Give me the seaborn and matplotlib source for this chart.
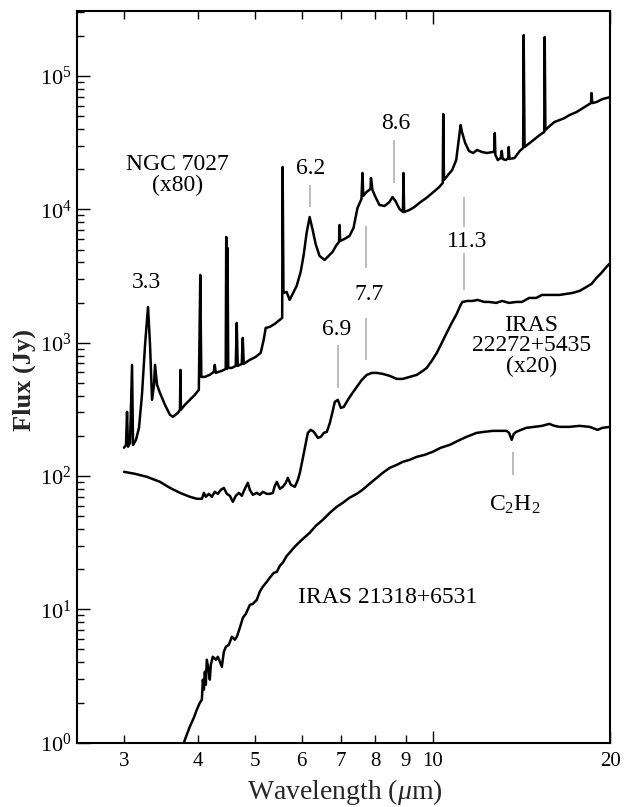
import numpy as np
import pandas as pd
import seaborn as sns
import matplotlib
matplotlib.use("Agg")
import matplotlib.pyplot as plt
from matplotlib.ticker import LogLocator, NullFormatter

# ---------------------------------------------------------------------------
# Spectra (wavelength in micron, flux in Jy, already scaled as labelled)
# ---------------------------------------------------------------------------
ngc_wl = [3.000, 3.023, 3.035, 3.047, 3.071, 3.095, 3.107, 3.143, 3.180, 3.217,
          3.256, 3.294, 3.320, 3.346, 3.372, 3.385, 3.412, 3.451, 3.519, 3.588,
          3.630, 3.702, 3.731, 3.738, 3.745, 3.803, 3.878, 3.953, 4.016, 4.039,
          4.055, 4.110, 4.191, 4.257, 4.274, 4.290, 4.391, 4.460, 4.469, 4.481,
          4.492, 4.504, 4.566, 4.638, 4.656, 4.674, 4.748, 4.767, 4.785, 4.899,
          5.014, 5.112, 5.172, 5.213, 5.294, 5.399, 5.505, 5.559, 5.569, 5.587,
          5.657, 5.723, 5.791, 5.882, 5.975, 6.045, 6.115, 6.188, 6.261, 6.334,
          6.431, 6.558, 6.661, 6.766, 6.872, 6.939, 6.953, 6.971, 7.088, 7.228,
          7.342, 7.457, 7.574, 7.604, 7.628, 7.724, 7.845, 7.860, 7.906, 7.999,
          8.125, 8.285, 8.448, 8.548, 8.648, 8.784, 8.904, 8.922, 8.946, 9.132,
          9.312, 9.491, 9.754, 9.984, 10.26, 10.40, 10.42, 10.45, 10.58, 10.79,
          10.96, 11.04, 11.15, 11.21, 11.35, 11.52, 11.71, 11.89, 12.12, 12.36,
          12.64, 12.71, 12.74, 12.77, 12.89, 13.04, 13.09, 13.14, 13.30, 13.43,
          13.45, 13.49, 13.76, 14.04, 14.23, 14.26, 14.31, 14.60, 14.89, 15.18,
          15.45, 15.48, 15.52, 15.78, 16.08, 16.40, 16.73, 17.05, 17.53, 18.08,
          18.54, 18.58, 18.64, 18.95, 19.40, 20.00]
ngc_flux = [163, 171, 303, 166, 177, 682, 171, 187, 230, 406,
            963, 1855, 963, 373, 483, 682, 483, 420, 342, 288,
            278, 298, 314, 625, 314, 342, 373, 406, 443, 3223,
            554, 554, 574, 604, 682, 594, 615, 636, 6210, 636,
            5135, 647, 647, 670, 1407, 670, 694, 1086, 694, 743,
            783, 839, 1050, 1291, 1313, 1383, 1482, 1534, 20790, 2362,
            2403, 2094, 2322, 2666, 3395, 4552, 6655, 8770, 7009, 5503,
            4474, 4175, 4474, 4794, 5409, 5695, 7640, 5795, 5999, 6318,
            7254, 10240, 11970, 18750, 12600, 13500, 14220, 17190, 13980, 12380,
            10790, 10600, 11360, 12380, 11560, 10070, 9561, 18750, 9561, 9897,
            10420, 11170, 12180, 13270, 14720, 15780, 51900, 16610, 17800, 19740,
            23460, 30400, 42930, 38040, 31460, 27410, 26480, 27880, 26940, 26480,
            26940, 26940, 37390, 25580, 23460, 24290, 27410, 23870, 23460, 24290,
            29370, 23870, 24290, 27410, 28860, 202900, 29370, 31460, 33700, 36120,
            38040, 196100, 39380, 42200, 45220, 46800, 48440, 51010, 53720, 58560,
            62750, 74570, 62750, 63850, 67260, 69620]

iras22_wl = [3.000, 3.131, 3.281, 3.451, 3.588, 3.731, 3.878, 3.985, 4.064, 4.096,
             4.127, 4.176, 4.225, 4.274, 4.325, 4.376, 4.428, 4.480, 4.533, 4.586,
             4.640, 4.695, 4.750, 4.805, 4.862, 4.900, 4.958, 5.035, 5.095, 5.155,
             5.236, 5.298, 5.360, 5.402, 5.444, 5.508, 5.572, 5.638, 5.683, 5.749,
             5.841, 5.910, 5.956, 6.027, 6.097, 6.144, 6.216, 6.290, 6.389, 6.464,
             6.540, 6.617, 6.695, 6.747, 6.826, 6.907, 6.988, 7.070, 7.182, 7.295,
             7.438, 7.584, 7.733, 7.885, 8.040, 8.230, 8.458, 8.692, 8.898, 9.143,
             9.397, 9.618, 9.770, 9.962, 10.16, 10.36, 10.56, 10.77, 10.98, 11.15,
             11.23, 11.45, 11.68, 11.91, 12.23, 12.47, 12.81, 13.11, 13.47, 13.85,
             14.17, 14.56, 14.97, 15.32, 15.75, 16.40, 17.25, 17.73, 18.22, 18.58,
             18.94, 19.31, 19.69, 20.00]
iras22_flux = [107.5, 103.9, 98.6, 90.5, 81.5, 74.8, 69.9, 67.5, 67.5, 74.8,
               69.9, 73.5, 69.9, 76.1, 73.5, 78.8, 81.5, 73.5, 71.1, 64.1,
               71.1, 74.8, 71.1, 80.2, 88.9, 78.8, 72.3, 74.8, 72.3, 76.1,
               73.5, 73.5, 74.8, 84.4, 90.5, 80.2, 83.0, 88.9, 96.9, 85.9,
               83.0, 93.7, 105.7, 136.9, 177.4, 210.8, 222.0, 214.5, 193.4, 196.8,
               210.8, 214.5, 250.5, 287.6, 359.9, 372.6, 324.5, 330.2, 372.6, 413.2,
               466.4, 526.1, 573.7, 593.7, 593.7, 583.6, 563.8, 535.3, 535.3, 554.2,
               573.7, 614.5, 647.4, 730.5, 838.5, 996.6, 1184, 1407, 1644, 1920,
               2022, 2057, 2057, 2094, 2022, 2022, 1988, 2057, 1988, 2022,
               2022, 2167, 2167, 2282, 2282, 2282, 2362, 2445, 2620, 2759,
               3061, 3337, 3700, 3965]

iras21_wl = [3.680, 3.788, 3.832, 3.878, 3.939, 3.985, 4.031, 4.064, 4.080, 4.096,
             4.112, 4.127, 4.143, 4.176, 4.192, 4.208, 4.241, 4.291, 4.325, 4.359,
             4.393, 4.428, 4.463, 4.515, 4.569, 4.622, 4.658, 4.713, 4.769, 4.825,
             4.900, 4.958, 5.035, 5.095, 5.155, 5.236, 5.298, 5.381, 5.444, 5.508,
             5.572, 5.660, 5.723, 5.818, 5.882, 6.027, 6.188, 6.339, 6.515, 6.695,
             6.877, 7.043, 7.228, 7.438, 7.604, 7.814, 8.040, 8.230, 8.458, 8.692,
             8.898, 9.143, 9.397, 9.691, 9.999, 10.31, 10.69, 11.03, 11.41, 11.64,
             11.87, 12.23, 12.64, 12.98, 13.34, 13.47, 13.61, 13.72, 13.85, 14.12,
             14.40, 14.85, 15.32, 15.75, 16.08, 16.40, 17.05, 17.73, 18.44, 19.02,
             19.39, 20.00]
iras21_flux = [0.745, 1.00, 1.15, 1.32, 1.54, 1.77, 1.99, 2.10, 2.97, 2.50,
               3.41, 2.72, 4.19, 3.41, 2.97, 3.84, 4.41, 4.19, 4.41, 4.05,
               3.71, 4.81, 5.24, 5.43, 6.23, 5.92, 6.23, 7.28, 8.65, 9.27,
               10.8, 11.0, 11.8, 13.6, 14.8, 16.1, 17.3, 18.8, 19.1, 21.2,
               22.4, 25.2, 26.6, 29.0, 30.5, 33.8, 37.5, 42.3, 47.0, 53.0,
               58.8, 63.0, 68.7, 73.6, 78.8, 87.4, 96.9, 105.7, 115.2, 121.3,
               127.8, 132.3, 139.3, 144.2, 151.9, 162.7, 171.3, 183.6, 196.8, 203.6,
               210.8, 214.5, 218.2, 218.2, 218.2, 210.8, 186.8, 207.2, 214.5, 222.0,
               229.8, 233.8, 237.9, 246.2, 237.9, 233.8, 233.8, 237.9, 233.8, 222.0,
               229.8, 233.8]

# Band identifications
pah_bands = [3.3, 6.2, 6.9, 7.7, 8.6, 11.3]
c2h2_band = 13.7

x_major = [10, 20]
x_minor = [3, 4, 5, 6, 7, 8, 9]

# ---------------------------------------------------------------------------
sns.set_theme(style="ticks")
plt.rcParams.update({
    "font.family": ["Liberation Serif", "DejaVu Serif"],
    "mathtext.fontset": "custom",
    "mathtext.rm": "Liberation Serif",
    "mathtext.it": "Liberation Serif:italic",
    "mathtext.bf": "Liberation Serif:bold",
    "mathtext.default": "regular",
    "axes.edgecolor": "black",
    "axes.linewidth": 1.5,
    "xtick.color": "black",
    "ytick.color": "black",
    "text.color": "black",
})

frames = []
for name, wl, fl in [("NGC 7027", ngc_wl, ngc_flux),
                     ("IRAS 22272+5435", iras22_wl, iras22_flux),
                     ("IRAS 21318+6531", iras21_wl, iras21_flux)]:
    frames.append(pd.DataFrame({"source": name, "wavelength": wl, "flux": fl}))
spectra = pd.concat(frames, ignore_index=True)

fig = plt.figure(figsize=(6.24, 8.07), dpi=100)
ax = fig.add_axes([0.1239, 0.0797, 0.8543, 0.9063])
ax.set_xscale("log")
ax.set_yscale("log")

sns.lineplot(data=spectra, x="wavelength", y="flux", units="source",
             estimator=None, sort=False, color="black", linewidth=1.8,
             ax=ax, legend=False)

ax.set_xlim(2.5, 20)
ax.set_ylim(1, 3.06e5)

# Feature markers
grey = "#a8a8a8"
marks = [(6.2, 10420, 15240), (8.6, 15780, 33130),
         (7.7, 3637, 7510), (7.7, 743, 1534),
         (11.3, 7380, 12390), (11.3, 2488, 4713),
         (6.9, 458, 963), (c2h2_band, 102, 152)]
for wl, lo, hi in marks:
    ax.plot([wl, wl], [lo, hi], color=grey, lw=1.1, solid_capstyle="butt")

fs = 17
ax.text(3.70, 18110, "NGC 7027\n(x80)", ha="center", va="center",
        fontsize=fs, linespacing=1.05)
ax.text(3.28, 2808, "3.3", ha="center", va="center", fontsize=fs)
ax.text(6.2, 20430, "6.2", ha="center", va="center", fontsize=fs)
ax.text(8.66, 44440, "8.6", ha="center", va="center", fontsize=fs)
ax.text(11.43, 5695, "11.3", ha="center", va="center", fontsize=fs)
ax.text(7.81, 2282, "7.7", ha="center", va="center", fontsize=fs)
ax.text(6.88, 1247, "6.9", ha="center", va="center", fontsize=fs)
ax.text(14.7, 946, "IRAS\n22272+5435\n(x20)", ha="center", va="center",
        fontsize=fs, linespacing=0.95)
ax.text(13.77, 60.8, r"C$_2$H$_2$", ha="center", va="center", fontsize=fs)
ax.text(8.39, 12.2, "IRAS 21318+6531", ha="center", va="center", fontsize=fs)

# Axes, ticks and labels
ax.set_xticks(x_major, [str(v) for v in x_major])
ax.set_xticks(x_minor, [str(v) for v in x_minor], minor=True)
ax.tick_params(axis="x", which="both", direction="in", top=True, bottom=True,
               labelsize=15, pad=7, width=1.0)
ax.tick_params(axis="x", which="major", length=9)
ax.tick_params(axis="x", which="minor", length=6)

ax.yaxis.set_major_locator(LogLocator(base=10, numticks=12))
ax.yaxis.set_minor_locator(LogLocator(base=10, subs=np.arange(2, 10), numticks=12))
ax.yaxis.set_minor_formatter(NullFormatter())
ax.tick_params(axis="y", which="both", direction="in", left=True, right=False,
               labelsize=16, pad=4, width=1.0)
ax.tick_params(axis="y", which="major", length=9)
ax.tick_params(axis="y", which="minor", length=5)

ax.set_xlabel(r"Wavelength ($\mathit{\mu}$m)", fontsize=20)
ax.set_ylabel("Flux (Jy)", fontsize=19, fontweight="bold")
ax.xaxis.set_label_coords(0.502, -0.067)
ax.xaxis.label.set_va("center")
ax.yaxis.set_label_coords(-0.10, 0.496)
ax.yaxis.label.set_va("center")

for side in ["top", "bottom", "left", "right"]:
    ax.spines[side].set_visible(True)
    ax.spines[side].set_linewidth(1.5)

fig.savefig("out.png", dpi=100, facecolor="white")
